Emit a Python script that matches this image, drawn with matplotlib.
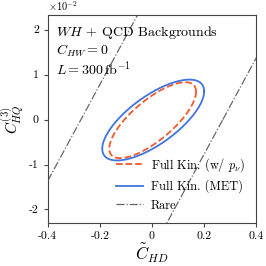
import numpy as np
import matplotlib
matplotlib.use("Agg")
import matplotlib.pyplot as plt

plt.rcParams['font.family'] = 'serif'
plt.rcParams['font.serif'] = ['cmr10', 'DejaVu Serif']
plt.rcParams['mathtext.fontset'] = 'cm'
plt.rcParams['axes.formatter.use_mathtext'] = True

# ellipse parameters (y in units of 1e-2)
labels = ['Full Kin. (w/ $p_\\nu$)', 'Full Kin. (MET)']
centers = [(0.003, -0.013), (0.005, -0.010)]
sig_x = [0.167, 0.196]
sig_y = [0.845, 0.90]
rho = [0.75, 0.71]
colors = ['#f2592b', '#3f74e0']
styles = ['--', '-']

# rare band: two nearly straight edges y = k (x -+ c)
rare_c = 0.273
rare_slope = 10.7
rare_len = 60.0

xticks = [-0.4, -0.2, 0, 0.2, 0.4]
xtick_labels = ['-0.4', '-0.2', '0', '0.2', '0.4']
yticks = [-2, -1, 0, 1, 2]
ytick_labels = ['-2', '-1', '0', '1', '2']

fig = plt.figure(figsize=(2.66, 2.66), dpi=100)
ax = fig.add_axes([0.18, 0.162, 0.782, 0.782])

t = np.linspace(0, 2 * np.pi, 400)
for i in range(2):
    cx, cy = centers[i]
    x = cx + sig_x[i] * np.cos(t)
    y = cy + sig_y[i] * (rho[i] * np.cos(t) + np.sqrt(1 - rho[i] ** 2) * np.sin(t))
    ax.plot(x, y * 1e-2, color=colors[i], ls=styles[i], lw=1.3, label=labels[i])

# rare contour (very elongated ellipse)
tr = np.linspace(0, 2 * np.pi, 4000)
yr = rare_len * np.sin(tr)
xr = rare_c * np.cos(tr) + yr / rare_slope
ax.plot(xr, yr * 1e-2, color='#666666', ls='-.', lw=0.9, label='Rare')

ax.set_xlim(-0.4, 0.4)
ax.set_ylim(-2.3e-2, 2.33e-2)
ax.set_xticks(xticks)
ax.set_xticklabels(xtick_labels)
ax.set_yticks([v * 1e-2 for v in yticks])
ax.set_yticklabels(ytick_labels)
ax.tick_params(labelsize=8.5, length=3, color='#444444')
for s in ax.spines.values():
    s.set_color('#444444')
ax.text(0.0, 1.008, '$\\times10^{-2}$', transform=ax.transAxes, fontsize=7.5,
        ha='left', va='bottom')

ax.set_xlabel('$\\tilde{C}_{HD}$', fontsize=12, labelpad=0)
ax.set_ylabel('$C_{HQ}^{(3)}$', fontsize=11, labelpad=2)

ax.text(0.04, 0.913, '$WH$ + QCD Backgrounds', transform=ax.transAxes, fontsize=10.1, va='center')
ax.text(0.04, 0.827, '$C_{HW} = 0$', transform=ax.transAxes, fontsize=10.1, va='center')
ax.text(0.04, 0.74, '$L = 300\\,\\mathrm{fb}^{-1}$', transform=ax.transAxes, fontsize=10.1, va='center')

ax.legend(loc='lower right', frameon=False, fontsize=8.9, handlelength=2.2,
          borderaxespad=0.5, labelspacing=0.5, handletextpad=0.6)

fig.savefig('out.png', dpi=100)
